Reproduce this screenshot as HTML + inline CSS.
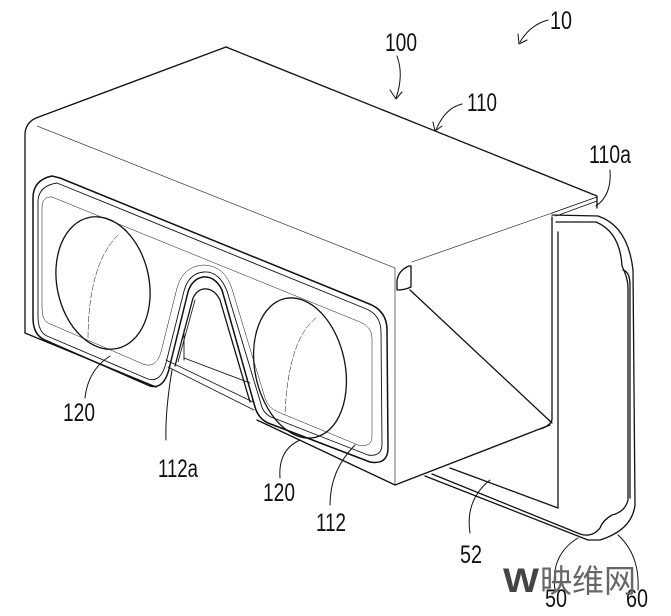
<!DOCTYPE html>
<html><head><meta charset="utf-8"><style>
html,body{margin:0;padding:0;background:#fff;}
svg{display:block}
text{font-family:"Liberation Sans",sans-serif;font-size:25px;fill:#111}
</style></head><body>
<svg width="671" height="616" viewBox="0 0 671 616" xmlns="http://www.w3.org/2000/svg">
<g fill="none" stroke="#111" stroke-width="1.3" stroke-linejoin="round" stroke-linecap="round">
<path d="M226,47 L597,196 L597,208"/>
<path d="M226,47 L36,118 Q25,123 25,135 L25,333"/>
<path d="M37,126 L395,268" stroke-width="0.6"/>
<path d="M395,268 L395,485" stroke-width="0.6"/>
<path d="M412,262 L552,213" stroke-width="0.6"/>
<path d="M552,213 L597,197 M556,216 L597,201" stroke-width="0.9"/>
<path d="M25,333 L156,387"/>
<path d="M257,420 L395,485 L550,425"/>
<path d="M552,217 L552,420 Q550,426 540,429"/>
<path d="M410,290 L552,423"/>
<path d="M397,290 L397,280 Q399,270 409,266 L411,266 L411,287 Q405,290 397,290 Z"/>
<path d="M552,215 L598,216 Q628,226 633,270 L635,505 Q632,530 600,540 L588,540 L425,476"/>
<path d="M556,222 L596,222 Q620,232 622,266 Q628,278 628,288 L628,500 Q625,512 612,515 Q603,520 600,528 Q592,538 580,534 L432,474"/>
<path d="M623,270 Q630,272 630,285 L630,498"/>
<path d="M558,232 L558,508 L450,468"/>
<path d="M60,178 L367,303 Q387,310 387,330 L388,448 Q388,465 370,462 L268,423 Q258,418 255,407 L222,290 Q215,276 203,277 Q192,279 188,292 L170,365 Q165,390 150,386 L45,340 Q33,335 33,318 L33,198 Q33,180 52,176 Z" stroke-width="1.5"/>
<path d="M57,183 L364,308 Q381,314 381,332 L382,444 Q382,457 368,455 L271,417 Q263,413 261,404 L227,291 Q219,271 204,272 Q189,273 184,291 L166,363 Q161,383 148,379 L47,336 Q38,332 38,316 L38,202 Q38,186 57,183 Z" stroke-width="0.9"/>
<path d="M52,197 L360,322 Q372,327 372,338 L372,436 Q372,448 358,445 L278,412 Q268,408 265,398 L232,289 Q225,266 204,265 Q183,266 177,288 L161,352 Q156,369 143,364 L48,323 Q42,320 42,308 L42,208 Q42,196 52,197 Z" stroke-width="0.5"/>
<path d="M175,366 L193,298 Q198,288 207,289 Q215,290 220,300 L250,402"/>
<path d="M178,362 L195,300" stroke-width="0.8"/>
<path d="M166,360 L253,402 M168,367 L254,410" stroke-width="0.8"/>
<path d="M184,360 L184,330 M184,358 L250,383" stroke-width="0.9"/>
<ellipse cx="103" cy="283" rx="46" ry="67" transform="rotate(-12 103 283)"/>
<path d="M118,235 Q88,265 88,340" stroke-width="0.5" stroke-dasharray="6 2"/>
<ellipse cx="300" cy="368" rx="45" ry="71" transform="rotate(-12 300 368)"/>
<path d="M316,318 Q288,340 285,415" stroke-width="0.5" stroke-dasharray="6 2"/>
<path d="M397,56 Q404,75 396,98 M390,90 L396,99 L402,92" stroke-width="1"/>
<path d="M548,20 Q530,25 520,42 M518,34 L519,44 L527,40" stroke-width="1"/>
<path d="M462,104 Q445,108 436,130 M433,122 L435,131 L442,126" stroke-width="1"/>
<path d="M610,170 Q612,195 596,206" stroke-width="1"/>
<path d="M85,398 Q88,370 110,356" stroke-width="1"/>
<path d="M166,440 Q165,412 172,370" stroke-width="1"/>
<path d="M280,478 Q278,450 300,440" stroke-width="1"/>
<path d="M330,505 Q330,470 355,445" stroke-width="1"/>
<path d="M470,533 Q465,500 490,480" stroke-width="1"/>
<path d="M555,590 Q550,555 578,538" stroke-width="1"/>
<path d="M638,590 Q640,555 618,535" stroke-width="1"/>
</g>
<g>
<text x="385" y="51" textLength="32" lengthAdjust="spacingAndGlyphs">100</text>
<text x="550" y="29" textLength="22" lengthAdjust="spacingAndGlyphs">10</text>
<text x="467" y="111" textLength="30" lengthAdjust="spacingAndGlyphs">110</text>
<text x="589" y="163" textLength="42" lengthAdjust="spacingAndGlyphs">110a</text>
<text x="63" y="421" textLength="32" lengthAdjust="spacingAndGlyphs">120</text>
<text x="158" y="477" textLength="40" lengthAdjust="spacingAndGlyphs">112a</text>
<text x="263" y="501" textLength="32" lengthAdjust="spacingAndGlyphs">120</text>
<text x="316" y="531" textLength="30" lengthAdjust="spacingAndGlyphs">112</text>
<text x="460" y="563" textLength="22" lengthAdjust="spacingAndGlyphs">52</text>
<text x="545" y="607" textLength="22" lengthAdjust="spacingAndGlyphs">50</text>
<text x="626" y="607" textLength="22" lengthAdjust="spacingAndGlyphs">60</text>
<text x="503" y="592" style="font-size:34px;font-weight:bold;fill:#444" textLength="36" lengthAdjust="spacingAndGlyphs">W</text>
<text x="540" y="592" style="font-family:'Liberation Sans','Noto Sans CJK SC',sans-serif;font-size:32px;fill:#666">映维网</text>
</g>
</svg>
</body></html>
